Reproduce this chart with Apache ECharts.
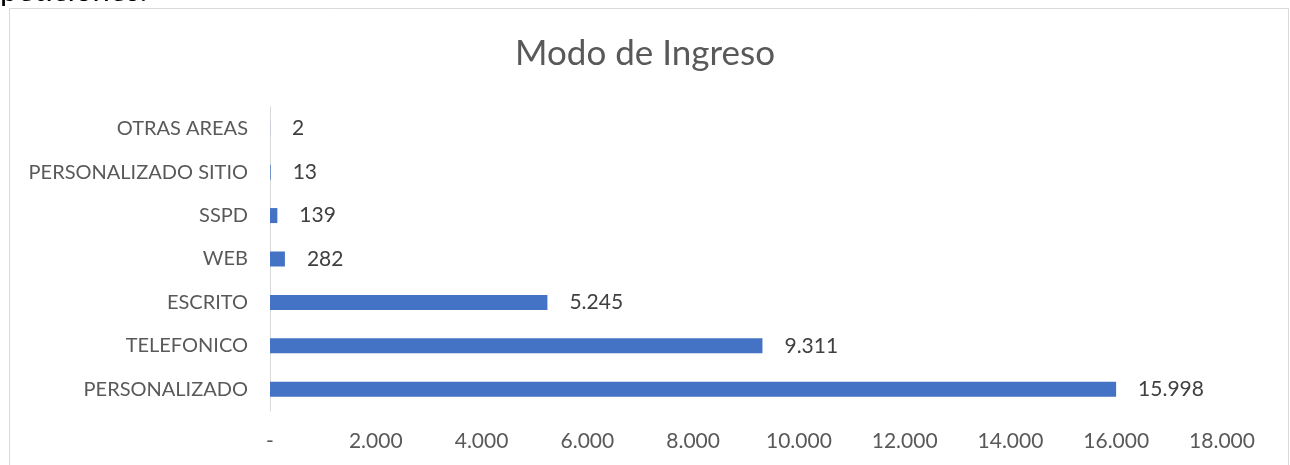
<!DOCTYPE html>
<html>
<head>
<meta charset="utf-8">
<script src="https://cdn.jsdelivr.net/npm/echarts@6/dist/echarts.min.js"></script>
<style>
  html, body { margin: 0; padding: 0; background: #fff; }
  #chart { width: 1290px; height: 465px; }
</style>
</head>
<body>
<div id="chart"></div>
<script>
var categorias = ['PERSONALIZADO', 'TELEFONICO', 'ESCRITO', 'WEB', 'SSPD', 'PERSONALIZADO SITIO', 'OTRAS AREAS'];
var valores = [15998, 9311, 5245, 282, 139, 13, 2];

function miles(v) {
    if (v == 0) return '-';
    return String(v).replace(/\B(?=(\d{3})+(?!\d))/g, '.');
}

var dom = document.getElementById('chart');
var myChart = echarts.init(dom);
var fuente = 'Lato, "Liberation Sans", sans-serif';

var option = {
    backgroundColor: '#fff',
    animation: false,
    title: {
        text: 'Modo de Ingreso',
        left: 'center',
        top: 31,
        textStyle: { fontFamily: fuente, fontSize: 35, fontWeight: 'normal', color: '#595959' }
    },
    graphic: [
        // texto cortado arriba del recuadro
        { type: 'text', left: 0, top: -25, style: { text: 'peticiones.', font: '31px ' + fuente, fill: '#000' } },
        { type: 'rect', shape: { x: 9.5, y: 8.5, width: 1279, height: 470 }, style: { fill: 'none', stroke: '#d9d9d9', lineWidth: 1 } }
    ],
    grid: { left: 270, right: 68, top: 107, height: 304 },
    xAxis: {
        type: 'value',
        min: 0,
        max: 18000,
        interval: 2000,
        splitLine: { show: false },
        axisLine: { show: false },
        axisTick: { show: false },
        axisLabel: {
            formatter: miles,
            fontFamily: fuente, fontSize: 21, color: '#595959', margin: 20
        }
    },
    yAxis: {
        type: 'category',
        data: categorias,
        axisLine: { show: true, lineStyle: { color: '#d9d9d9', width: 1 } },
        axisTick: { show: false },
        axisLabel: { fontFamily: fuente, fontSize: 20, color: '#595959', margin: 22 }
    },
    series: [{
        type: 'bar',
        data: valores,
        barWidth: 15,
        itemStyle: { color: '#4472C4' },
        label: {
            show: true,
            position: 'right',
            distance: 22,
            formatter: function (p) { return miles(p.value); },
            fontFamily: fuente, fontSize: 21, color: '#404040'
        }
    }]
};
myChart.setOption(option, true);
</script>
</body>
</html>
